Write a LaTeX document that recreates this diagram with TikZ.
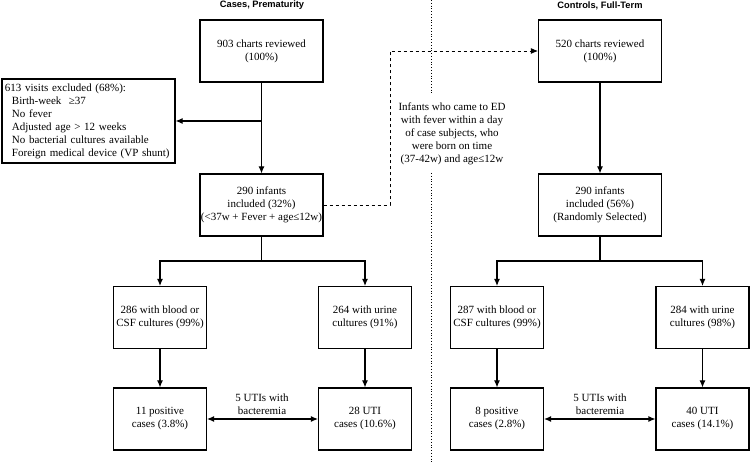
\documentclass[tikz,border=0pt]{standalone}
\usepackage{fontspec}
\setmainfont{Liberation Serif}
\newfontfamily\titlefont{Liberation Sans}
\usetikzlibrary{arrows.meta}
\begin{document}
\begin{tikzpicture}[x=1pt,y=-1pt,
  box/.style={draw, line width=1.1pt, align=center, inner sep=0pt, font=\fontsize{11}{13}\selectfont},
  wbig/.style={minimum width=123pt, minimum height=62pt},
  wsm/.style={minimum width=93pt, minimum height=62pt},
  conn/.style={line width=1.1pt, -{Latex[length=7pt,width=6pt]}},
  dconn/.style={line width=1.1pt, {Latex[length=7pt,width=6pt]}-{Latex[length=7pt,width=6pt]}},
  ttl/.style={font=\titlefont\bfseries\fontsize{9.3}{11}\selectfont},
  lbl/.style={align=center, font=\fontsize{11}{13}\selectfont, inner sep=0pt}]
\useasboundingbox (0,0) rectangle (750,462);
% titles
\node[ttl] (t1) at (262,5.5) {Cases, Prematurity};
\node[ttl] (t2) at (600,5.5) {Controls, Full-Term};
% divider
\coordinate (v1) at (431,0); \coordinate (v2) at (431,95);
\coordinate (v3) at (431,173); \coordinate (v4) at (431,462);
\draw[dotted, line width=0.8pt] (v1) -- (v2) (v3) -- (v4);
% left column
\node[box,wbig] (n903) at (261.5,51) {903 charts reviewed\\(100\%)};
\node[box,minimum width=173pt,minimum height=84pt,align=left,inner xsep=3pt,text width=167pt] (n613) at (88.5,121)
  {613 visits excluded (68\%):\\
  \hspace*{7pt}Birth-week\ \ ≥37\\
  \hspace*{7pt}No fever\\
  \hspace*{7pt}Adjusted age > 12 weeks\\
  \hspace*{7pt}No bacterial cultures available\\
  \hspace*{7pt}Foreign medical device (VP shunt)};
\node[box,wbig] (n290a) at (261.5,205) {290 infants\\included (32\%)\\(<37w + Fever + age≤12w)};
\node[box,wsm] (n286) at (160,317.5) {286 with blood or\\CSF cultures (99\%)};
\node[box,wsm] (n264) at (365,317.5) {264 with urine\\cultures (91\%)};
\node[box,wsm] (n11) at (160,419) {11 positive\\cases (3.8\%)};
\node[box,wsm] (n28) at (365,419) {28 UTI\\cases (10.6\%)};
% right column
\node[box,wbig] (n520) at (600,51) {520 charts reviewed\\(100\%)};
\node[box,wbig] (n290b) at (600,205) {290 infants\\included (56\%)\\(Randomly Selected)};
\node[box,wsm] (n287) at (497,317.5) {287 with blood or\\CSF cultures (99\%)};
\node[box,wsm] (n284) at (702.5,317.5) {284 with urine\\cultures (98\%)};
\node[box,wsm] (n8) at (497,419) {8 positive\\cases (2.8\%)};
\node[box,wsm] (n40) at (702.5,419) {40 UTI\\cases (14.1\%)};
% labels
\node[lbl] (lmid) at (452,134) {Infants who came to ED\\with fever within a day\\of case subjects, who\\were born on time\\(37-42w) and age≤12w};
\node[lbl] (lu1) at (262,404) {5 UTIs with\\bacteremia};
\node[lbl] (lu2) at (600,404) {5 UTIs with\\bacteremia};
% connectors left
\draw[conn] (n903) -- (n290a);
\coordinate (j1) at (n903.south |- n613.east);
\draw[conn] (j1) -- (n613.east);
\coordinate (b1) at (261.5,261);
\draw[line width=1.1pt] (n290a.south) -- (b1);
\draw[conn] (b1) -| (n286.north);
\draw[conn] (b1) -| (n264.north);
\draw[conn] (n286) -- (n11);
\draw[conn] (n264) -- (n28);
\draw[dconn] (n11.east) -- (n28.west);
% connectors right
\draw[conn] (n520) -- (n290b);
\coordinate (b2) at (600,261);
\draw[line width=1.1pt] (n290b.south) -- (b2);
\draw[conn] (b2) -| (n287.north);
\draw[conn] (b2) -| (n284.north);
\draw[conn] (n287) -- (n8);
\draw[conn] (n284) -- (n40);
\draw[dconn] (n8.east) -- (n40.west);
% dashed link
\coordinate (d1) at (390,205);
\draw[conn, dashed, line width=0.9pt] (n290a.east) -- (d1) |- (n520.west);
\end{tikzpicture}
\end{document}
